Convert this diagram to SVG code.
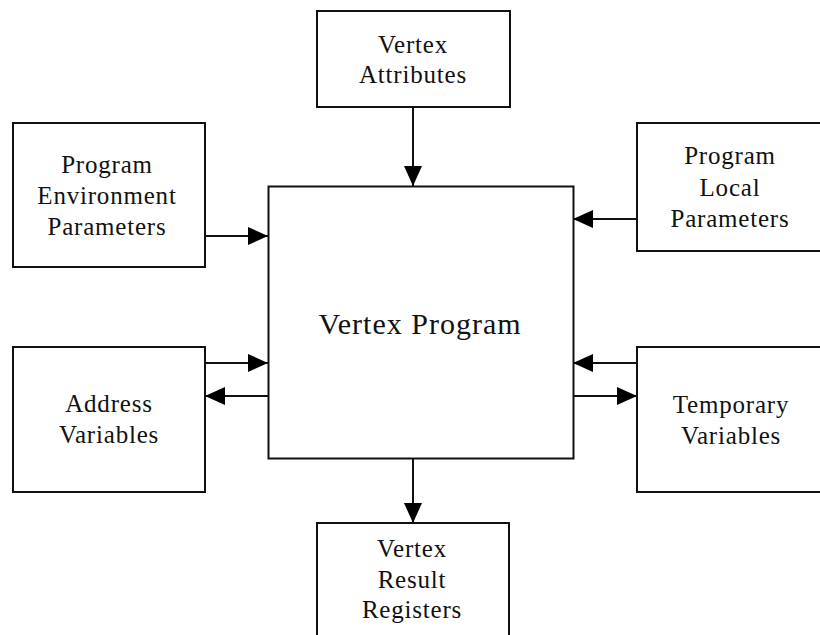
<svg xmlns="http://www.w3.org/2000/svg" width="820" height="635" viewBox="0 0 820 635">
<style>
.box{fill:#fff;stroke:#111;stroke-width:2}
.t{font-family:"Liberation Serif","Times New Roman",serif;font-size:25px;fill:#111;text-anchor:middle;letter-spacing:0.8px}
.big{font-size:30px;letter-spacing:1px}
.c{stroke:#111;stroke-width:2;fill:none;marker-end:url(#ah)}
</style>
<defs>
<marker id="ah" markerUnits="userSpaceOnUse" markerWidth="20" markerHeight="20" refX="20" refY="10" orient="auto" viewBox="0 0 20 20">
<path d="M0,1 L20,10 L0,19 z" fill="#000"/>
</marker>
</defs>
<rect width="820" height="635" fill="#fff"/>
<g id="connectors">
<line class="c" x1="413" y1="107" x2="413" y2="186"/>
<line class="c" x1="205" y1="236" x2="268" y2="236"/>
<line class="c" x1="637" y1="219" x2="573" y2="219"/>
<line class="c" x1="205" y1="363" x2="268" y2="363"/>
<line class="c" x1="268" y1="396" x2="205" y2="396"/>
<line class="c" x1="637" y1="363" x2="573" y2="363"/>
<line class="c" x1="573" y1="396" x2="637" y2="396"/>
<line class="c" x1="413" y1="459" x2="413" y2="523"/>
</g>
<g id="vertex-program">
<rect class="box" x="268.5" y="186.5" width="305" height="272"/>
<text class="t big" x="420" y="334">Vertex Program</text>
</g>
<g id="vertex-attributes">
<rect class="box" x="317" y="11" width="193" height="96"/>
<text class="t" x="413" y="53">Vertex</text>
<text class="t" x="413" y="83">Attributes</text>
</g>
<g id="program-environment-parameters">
<rect class="box" x="13" y="123" width="192" height="144"/>
<text class="t" x="107" y="173">Program</text>
<text class="t" x="107" y="204">Environment</text>
<text class="t" x="107" y="235">Parameters</text>
</g>
<g id="program-local-parameters">
<rect class="box" x="637" y="123" width="190" height="128"/>
<text class="t" x="730" y="164">Program</text>
<text class="t" x="730" y="196">Local</text>
<text class="t" x="730" y="227">Parameters</text>
</g>
<g id="address-variables">
<rect class="box" x="13" y="347" width="192" height="145"/>
<text class="t" x="109" y="412">Address</text>
<text class="t" x="109" y="443">Variables</text>
</g>
<g id="temporary-variables">
<rect class="box" x="637" y="347" width="190" height="145"/>
<text class="t" x="731" y="413">Temporary</text>
<text class="t" x="731" y="444">Variables</text>
</g>
<g id="vertex-result-registers">
<rect class="box" x="317" y="523" width="192" height="130"/>
<text class="t" x="412" y="557">Vertex</text>
<text class="t" x="412" y="588">Result</text>
<text class="t" x="412" y="618">Registers</text>
</g>
</svg>
